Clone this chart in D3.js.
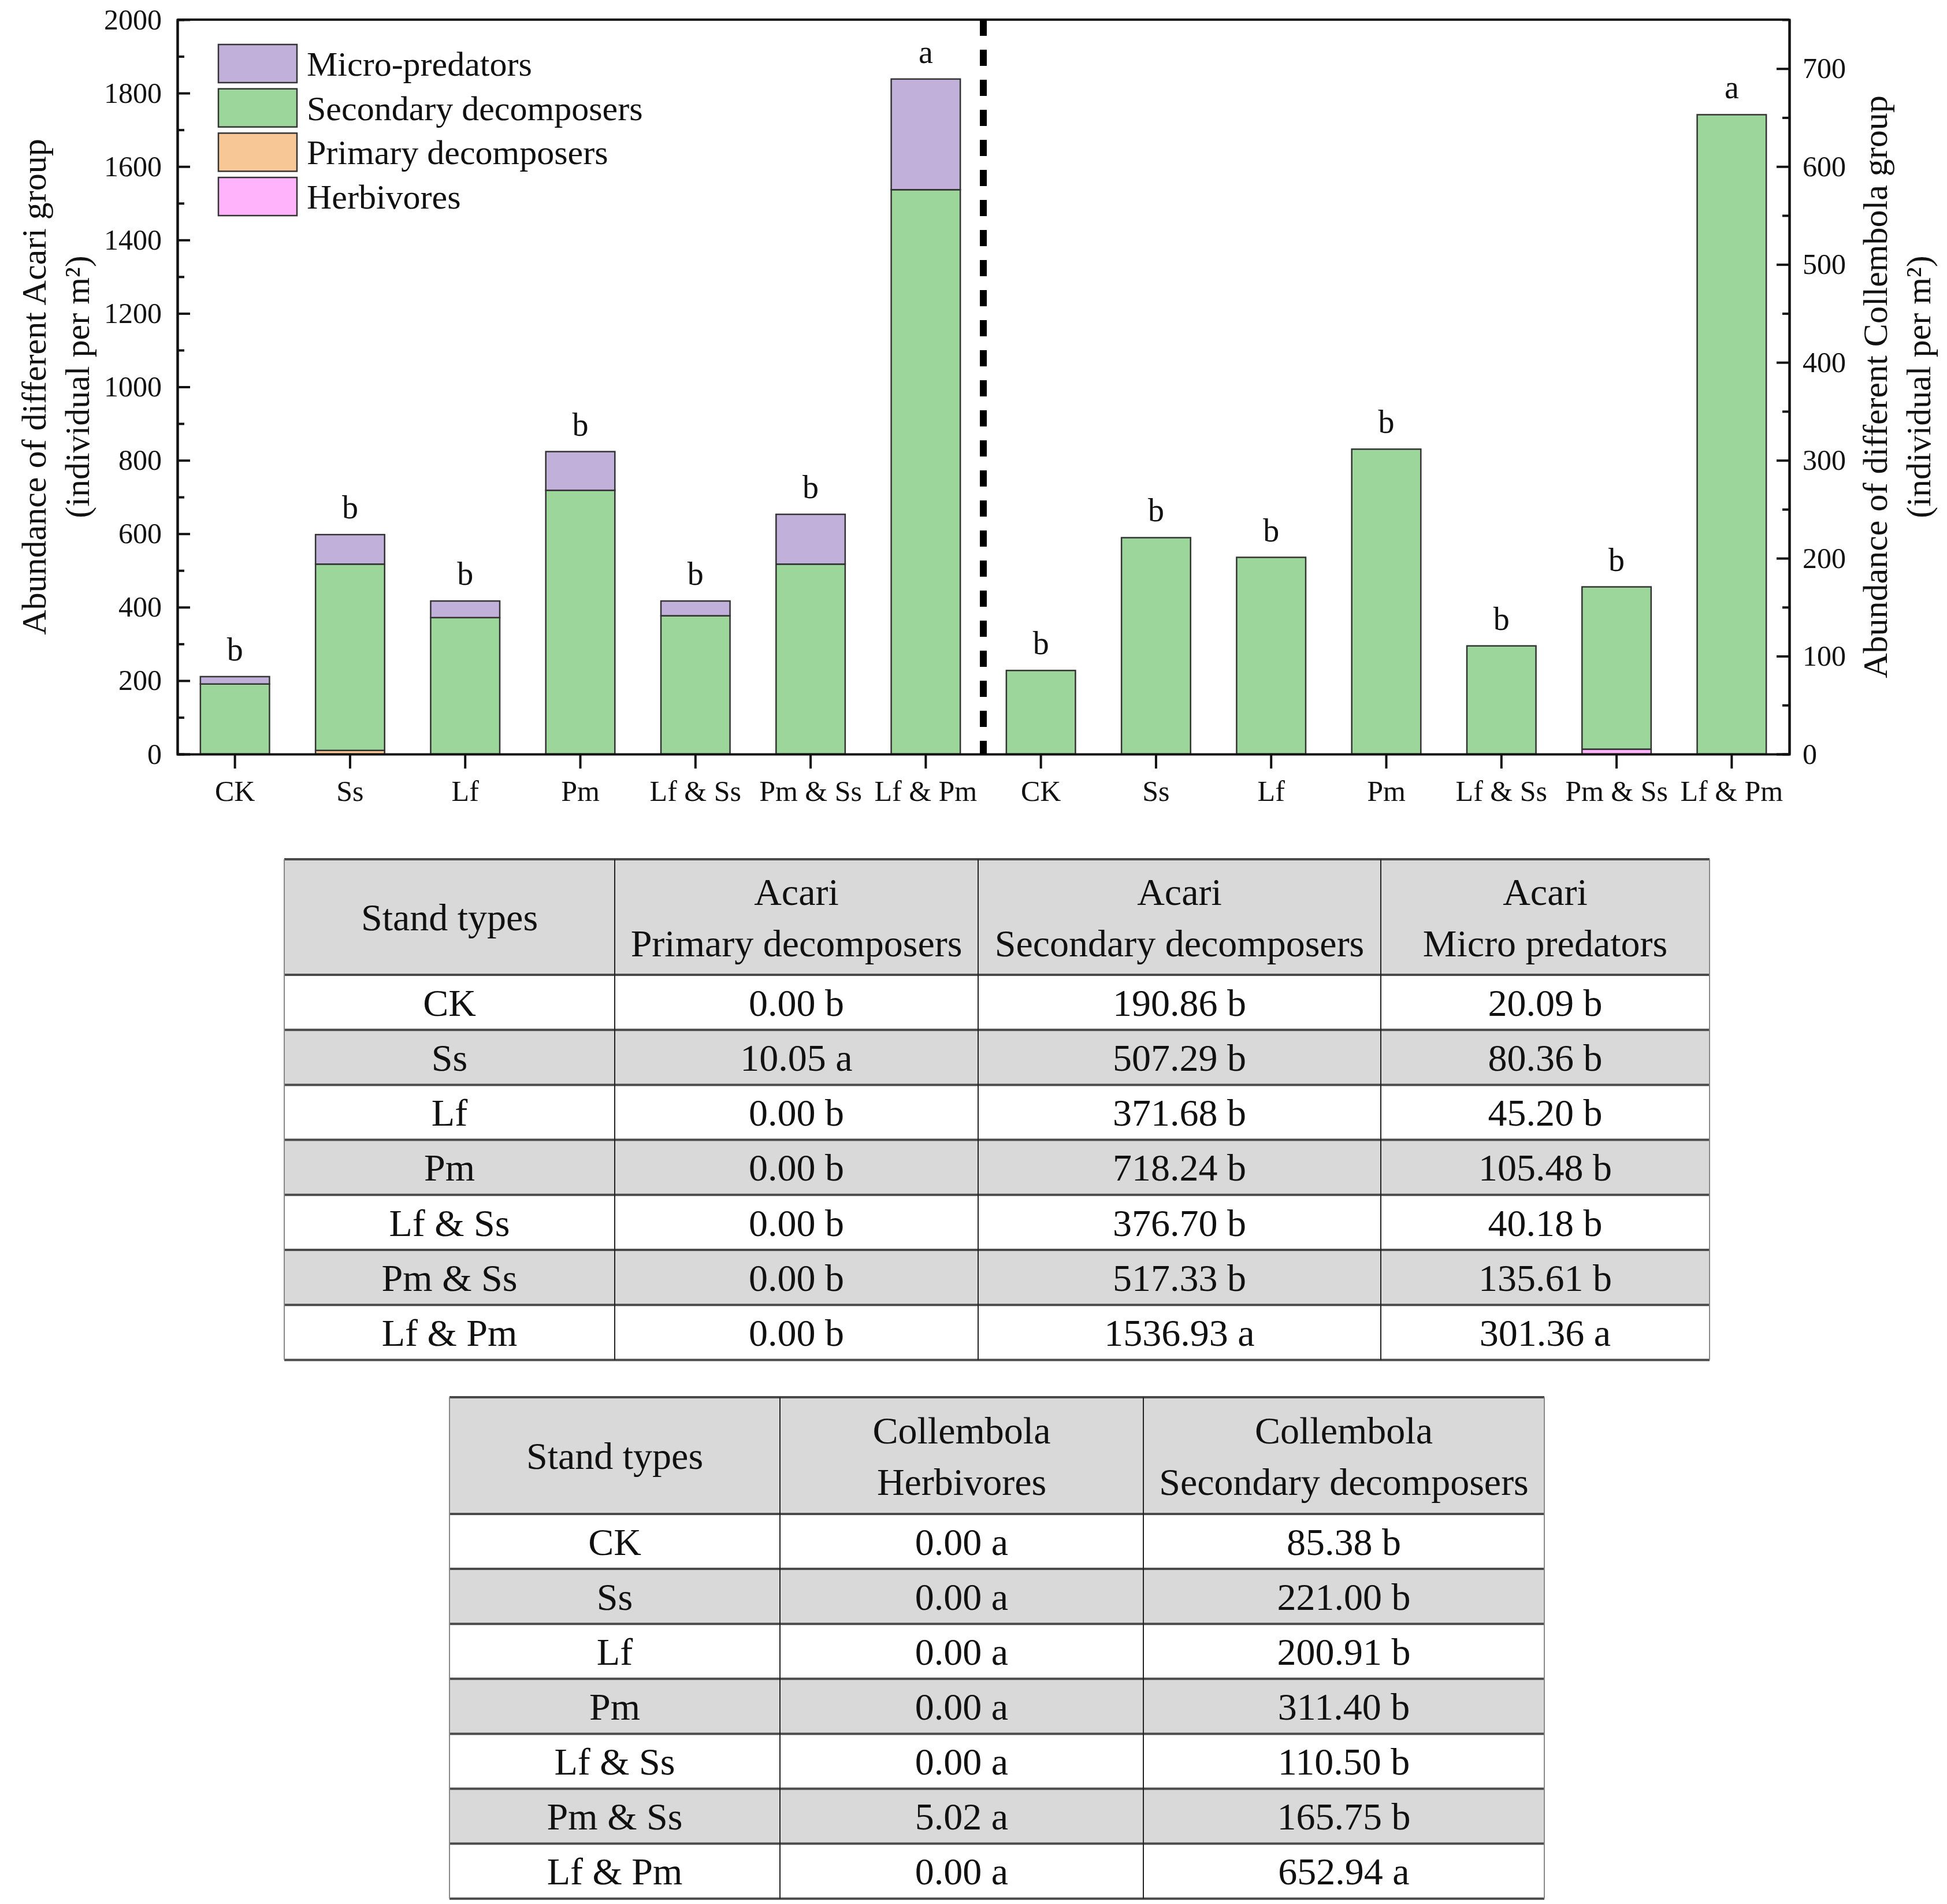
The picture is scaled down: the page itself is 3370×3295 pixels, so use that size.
<!DOCTYPE html>
<html>
<head>
<meta charset="utf-8">
<script src="https://cdn.jsdelivr.net/npm/d3@7"></script>
<style>
  body { margin: 0; background: #fff; }
  svg { display: block; font-family: "Liberation Serif", "Times New Roman", serif; }
</style>
</head>
<body>
<svg id="chart" width="3370" height="3295"></svg>
<script>
// ---- data ----
var categories = ["CK", "Ss", "Lf", "Pm", "Lf & Ss", "Pm & Ss", "Lf & Pm"];

var acariHerbivores = [0, 0, 0, 0, 0, 0, 0];
var acariPrimary    = [0.00, 10.05, 0.00, 0.00, 0.00, 0.00, 0.00];
var acariSecondary  = [190.86, 507.29, 371.68, 718.24, 376.70, 517.33, 1536.93];
var acariMicro      = [20.09, 80.36, 45.20, 105.48, 40.18, 135.61, 301.36];
var acariLetters    = ["b", "b", "b", "b", "b", "b", "a"];

var collHerbivores  = [0.00, 0.00, 0.00, 0.00, 0.00, 5.02, 0.00];
var collSecondary   = [85.38, 221.00, 200.91, 311.40, 110.50, 165.75, 652.94];
var collLetters     = ["b", "b", "b", "b", "b", "b", "a"];

// letters used in the tables
var acariPrimaryLet   = ["b", "a", "b", "b", "b", "b", "b"];
var acariSecondaryLet = ["b", "b", "b", "b", "b", "b", "a"];
var acariMicroLet     = ["b", "b", "b", "b", "b", "b", "a"];
var collHerbLet       = ["a", "a", "a", "a", "a", "a", "a"];
var collSecondaryLet  = ["b", "b", "b", "b", "b", "b", "a"];

var leftTicks  = d3.range(0, 2001, 200);
var leftMinor  = d3.range(100, 2000, 200);
var rightTicks = d3.range(0, 701, 100);
var rightMinor = d3.range(50, 700, 100);

var legendItems = ["Micro-predators", "Secondary decomposers", "Primary decomposers", "Herbivores"];

var colors = {
  micro: "#c0b0da",
  secondary: "#9dd69b",
  primary: "#f8c796",
  herb: "#ffb3fb"
};
var legendColors = [colors.micro, colors.secondary, colors.primary, colors.herb];

// ---- layout ----
var svg = d3.select("#chart");
var plotL = 307, plotR = 3097, plotT = 34, plotB = 1305;
var ink = "#111";

var keys = categories.map(function(c){ return "A|" + c; })
  .concat(categories.map(function(c){ return "C|" + c; }));

var x = d3.scaleBand().domain(keys).range([plotL, plotR])
  .paddingInner(0.4).paddingOuter(0.2);
var yL = d3.scaleLinear().domain([0, 2000]).range([plotB, plotT]);
var yR = d3.scaleLinear().domain([0, 750]).range([plotB, plotT]);

// ---- stacked bars ----
var acariRows = categories.map(function(c, i){
  return { key: "A|" + c, herb: acariHerbivores[i], primary: acariPrimary[i],
           secondary: acariSecondary[i], micro: acariMicro[i] };
});
var collRows = categories.map(function(c, i){
  return { key: "C|" + c, herb: collHerbivores[i], secondary: collSecondary[i] };
});

function drawStack(rows, stackKeys, y) {
  var series = d3.stack().keys(stackKeys)(rows);
  svg.append("g").selectAll("g").data(series).join("g")
      .attr("fill", function(s){ return colors[s.key]; })
    .selectAll("rect").data(function(s){ return s; }).join("rect")
      .attr("x", function(d){ return x(d.data.key); })
      .attr("width", x.bandwidth())
      .attr("y", function(d){ return y(d[1]); })
      .attr("height", function(d){ return y(d[0]) - y(d[1]); })
      .attr("stroke", "#333")
      .attr("stroke-width", 2.5);
}
drawStack(acariRows, ["herb", "primary", "secondary", "micro"], yL);
drawStack(collRows, ["herb", "secondary"], yR);

// significance letters
function drawLetters(rows, totals, letters, y) {
  svg.append("g").selectAll("text").data(rows).join("text")
      .attr("x", function(d){ return x(d.key) + x.bandwidth() / 2; })
      .attr("y", function(d, i){ return y(totals[i]) - 28; })
      .attr("text-anchor", "middle")
      .attr("font-size", 56)
      .attr("fill", ink)
      .text(function(d, i){ return letters[i]; });
}
drawLetters(acariRows, acariRows.map(function(d){ return d.herb + d.primary + d.secondary + d.micro; }), acariLetters, yL);
drawLetters(collRows, collRows.map(function(d){ return d.herb + d.secondary; }), collLetters, yR);

// ---- axes ----
function styleAxis(g, fs) {
  g.selectAll(".domain").attr("stroke", ink).attr("stroke-width", 4);
  g.selectAll(".tick line").attr("stroke", ink).attr("stroke-width", 4);
  g.selectAll("text").attr("font-size", fs).attr("fill", ink)
    .attr("font-family", "Liberation Serif, Times New Roman, serif");
}

var fmt = d3.format("d");

var gl = svg.append("g").attr("transform", "translate(" + plotL + ",0)")
  .call(d3.axisLeft(yL).tickValues(leftTicks).tickFormat(fmt)
    .tickSizeInner(-22).tickSizeOuter(0).tickPadding(27));
styleAxis(gl, 50);
var glm = svg.append("g").attr("transform", "translate(" + plotL + ",0)")
  .call(d3.axisLeft(yL).tickValues(leftMinor).tickSize(-12).tickFormat(""));
styleAxis(glm, 50);

var gr = svg.append("g").attr("transform", "translate(" + plotR + ",0)")
  .call(d3.axisRight(yR).tickValues(rightTicks).tickFormat(fmt)
    .tickSizeInner(-22).tickSizeOuter(0).tickPadding(23));
styleAxis(gr, 50);
var grm = svg.append("g").attr("transform", "translate(" + plotR + ",0)")
  .call(d3.axisRight(yR).tickValues(rightMinor).tickSize(-12).tickFormat(""));
styleAxis(grm, 50);

var gb = svg.append("g").attr("transform", "translate(0," + plotB + ")")
  .call(d3.axisBottom(x).tickSizeInner(25).tickSizeOuter(0).tickPadding(20)
    .tickFormat(function(k){ return k.split("|")[1]; }));
styleAxis(gb, 50);

// top frame line
svg.append("line").attr("x1", plotL).attr("x2", plotR).attr("y1", plotT).attr("y2", plotT)
  .attr("stroke", ink).attr("stroke-width", 4);

// dashed separator between the two groups
var sep = x(keys[7]) - x.step() * x.paddingInner() / 2;
svg.append("line").attr("x1", sep).attr("x2", sep).attr("y1", plotT).attr("y2", plotB)
  .attr("stroke", "#000").attr("stroke-width", 12).attr("stroke-dasharray", "28,24");

// axis titles
function axisTitle(cx, lines) {
  var t = svg.append("text")
    .attr("transform", "translate(" + cx + "," + ((plotT + plotB) / 2) + ") rotate(-90)")
    .attr("text-anchor", "middle").attr("font-size", 60).attr("fill", ink);
  lines.forEach(function(s, i){
    t.append("tspan").attr("x", 0).attr("dy", i === 0 ? "0.35em" : "1.25em").text(s);
  });
}
axisTitle(58, ["Abundance of different Acari group", "(individual per m\u00B2)"]);
axisTitle(3245, ["Abundance of different Collembola group", "(individual per m\u00B2)"]);

// legend
var lg = svg.append("g").selectAll("g").data(legendItems).join("g")
  .attr("transform", function(d, i){ return "translate(378," + (77 + i * 76.7) + ")"; });
lg.append("rect").attr("width", 136).attr("height", 66)
  .attr("fill", function(d, i){ return legendColors[i]; })
  .attr("stroke", "#333").attr("stroke-width", 2.5);
lg.append("text").attr("x", 153).attr("y", 33).attr("dy", "0.35em")
  .attr("font-size", 60).attr("fill", ink).text(function(d){ return d; });

// ---- tables ----
function drawTable(cols, topY, headerH, rowH, headers, columns) {
  var g = svg.append("g");
  var nRows = categories.length;
  var x0 = cols[0], x1 = cols[cols.length - 1];
  var bottomY = topY + headerH + nRows * rowH;

  // fills
  g.append("rect").attr("x", x0).attr("y", topY).attr("width", x1 - x0).attr("height", headerH)
    .attr("fill", "#d9d9d9");
  g.selectAll("rect.row").data(categories).join("rect").attr("class", "row")
    .attr("x", x0).attr("y", function(d, i){ return topY + headerH + i * rowH; })
    .attr("width", x1 - x0).attr("height", rowH)
    .attr("fill", function(d, i){ return i % 2 ? "#d9d9d9" : "#fff"; });

  // horizontal rules
  var hy = [topY, topY + headerH].concat(d3.range(1, nRows + 1).map(function(i){ return topY + headerH + i * rowH; }));
  g.selectAll("line.h").data(hy).join("line").attr("class", "h")
    .attr("x1", x0).attr("x2", x1).attr("y1", function(d){ return d; }).attr("y2", function(d){ return d; })
    .attr("stroke", "#4a4a4a").attr("stroke-width", 4);
  // vertical rules
  g.selectAll("line.v").data(cols).join("line").attr("class", "v")
    .attr("x1", function(d){ return d; }).attr("x2", function(d){ return d; })
    .attr("y1", topY).attr("y2", bottomY)
    .attr("stroke", function(d, i){ return (i === 0 || i === cols.length - 1) ? "#888" : "#222"; })
    .attr("stroke-width", 2);

  // headers
  headers.forEach(function(h, j){
    var cx = (cols[j] + cols[j + 1]) / 2, cy = topY + headerH / 2;
    var t = g.append("text").attr("x", cx).attr("text-anchor", "middle")
      .attr("font-size", 66).attr("fill", ink);
    if (h.length === 1) {
      t.attr("y", cy).attr("dy", "0.35em").text(h[0]);
    } else {
      t.append("tspan").attr("x", cx).attr("y", cy - 44).attr("dy", "0.35em").text(h[0]);
      t.append("tspan").attr("x", cx).attr("y", cy + 45).attr("dy", "0.35em").text(h[1]);
    }
  });

  // body
  categories.forEach(function(c, i){
    var cy = topY + headerH + i * rowH + rowH / 2;
    var cells = [c].concat(columns.map(function(col){ return col.v[i].toFixed(2) + " " + col.l[i]; }));
    cells.forEach(function(s, j){
      g.append("text").attr("x", (cols[j] + cols[j + 1]) / 2).attr("y", cy).attr("dy", "0.35em")
        .attr("text-anchor", "middle").attr("font-size", 66).attr("fill", ink).text(s);
    });
  });
}

drawTable([492, 1064, 1693, 2390, 2959], 1487, 200, 95.2,
  [["Stand types"], ["Acari", "Primary decomposers"], ["Acari", "Secondary decomposers"], ["Acari", "Micro predators"]],
  [{ v: acariPrimary, l: acariPrimaryLet }, { v: acariSecondary, l: acariSecondaryLet }, { v: acariMicro, l: acariMicroLet }]);

drawTable([778, 1350, 1979, 2673], 2418, 202, 95.1,
  [["Stand types"], ["Collembola", "Herbivores"], ["Collembola", "Secondary decomposers"]],
  [{ v: collHerbivores, l: collHerbLet }, { v: collSecondary, l: collSecondaryLet }]);
</script>
</body>
</html>
